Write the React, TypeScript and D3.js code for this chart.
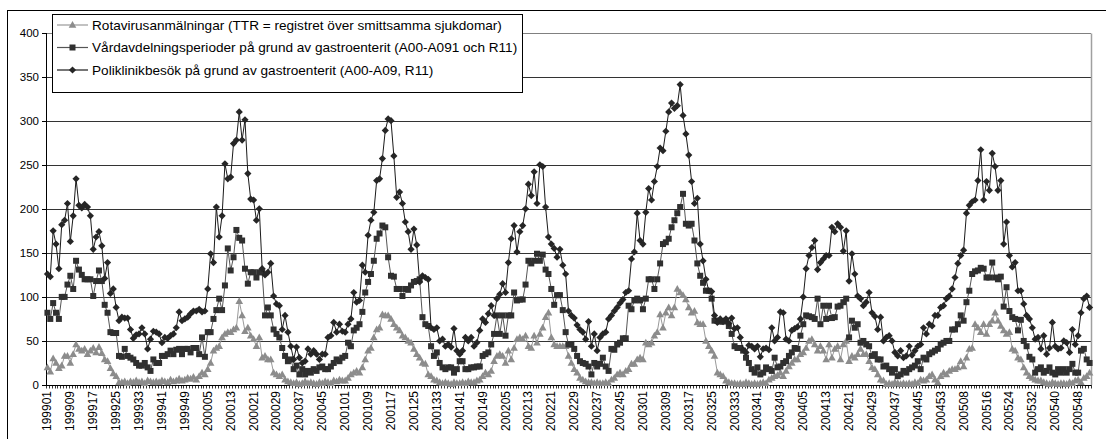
import React from 'react';
import * as d3 from 'd3';

// Categories: ISO year-week codes (1999 week 1 .. 2005 week 52)
const years = [1999, 2000, 2001, 2002, 2003, 2004, 2005];
const weeksPerYear = [52, 52, 52, 52, 52, 53, 52];
const categories: string[] = years.flatMap((yr, k) =>
  d3.range(1, weeksPerYear[k] + 1).map((w) => `${yr}${String(w).padStart(2, '0')}`)
);

// Rotavirusanmälningar (TTR)
const rota: number[] = [
  // 1999
  20,15,30,25,19,22,33,33,25,35,46,41,39,41,35,39,42,37,43,36,29,27,19,13,10,3,3,4,2,4,3,5,3,4,2,5,4,3,4,3,5,4,3,6,4,5,7,5,6,8,7,9,
  // 2000
  6,10,14,12,18,25,39,42,44,54,58,60,60,63,65,95,79,61,65,56,52,44,54,31,33,29,29,14,12,10,12,6,4,3,2,3,1,2,4,2,3,2,1,3,2,4,3,2,5,4,6,5,
  // 2001
  5,8,12,14,16,14,20,29,39,42,54,63,65,80,79,79,75,69,65,62,56,54,50,48,41,35,31,25,24,12,10,6,5,3,2,3,2,1,3,2,2,3,2,4,3,3,5,6,10,14,12,16,
  // 2002
  27,33,35,33,25,39,29,42,52,54,52,56,44,42,56,48,58,65,77,82,54,46,44,44,44,44,33,25,18,14,8,6,4,3,3,2,3,2,2,3,2,6,8,12,14,12,16,18,24,24,29,31,
  // 2003
  29,48,46,48,56,60,80,65,82,88,79,88,109,105,102,97,88,82,84,71,69,69,50,44,39,33,14,12,10,5,3,2,2,1,2,1,3,2,1,2,1,2,3,2,6,8,10,11,14,10,16,21,
  // 2004
  25,29,29,35,37,42,50,52,46,39,44,39,29,46,31,41,44,29,46,50,27,33,31,35,41,35,35,27,20,18,12,6,5,1,2,1,3,2,1,2,1,2,1,3,2,6,5,6,10,12,6,3,10,
  // 2005
  14,12,16,18,18,20,27,21,31,41,42,69,65,60,69,58,69,73,82,73,67,62,58,60,41,39,31,29,20,14,10,8,6,5,5,3,2,1,3,2,1,2,2,1,3,2,5,6,3,8,10,14,
];

// Vårdavdelningsperioder
const vard: number[] = [
  82,75,93,82,75,100,100,114,124,109,141,131,125,120,120,120,101,118,130,118,91,82,60,59,59,33,32,41,33,31,29,25,22,22,25,20,16,29,25,25,33,33,35,39,35,40,41,35,41,41,37,42,
  42,35,54,32,60,60,75,85,98,85,113,155,130,145,176,167,164,132,115,128,128,122,128,128,79,88,79,63,58,54,42,33,27,29,18,22,12,18,12,16,14,18,16,20,21,18,18,21,25,29,27,31,
  33,48,44,62,65,69,83,105,117,126,141,166,172,181,179,145,124,123,109,109,101,109,108,113,117,118,120,77,69,67,44,33,37,25,20,18,20,20,14,18,27,27,18,18,20,20,21,21,33,35,37,46,
  58,79,58,79,56,79,79,105,96,97,97,114,141,138,141,149,141,148,131,126,109,91,102,102,85,60,46,46,41,33,27,25,24,21,12,25,21,24,31,21,16,41,40,46,48,53,53,90,86,96,98,96,
  86,98,120,120,109,120,138,160,162,166,179,187,195,202,217,183,181,183,164,138,124,116,107,107,98,73,73,72,72,73,67,58,44,42,42,39,31,25,18,14,20,12,14,20,18,16,31,20,21,25,27,33,
  37,42,41,56,69,79,78,77,75,98,69,90,75,90,76,77,89,90,94,98,54,73,65,69,48,50,46,44,33,35,29,29,21,22,18,14,18,10,12,16,14,18,20,22,27,18,31,29,35,37,39,41,46,
  48,50,50,63,63,69,79,73,94,107,126,129,130,133,132,122,122,139,122,120,123,89,111,84,77,75,62,74,50,44,32,29,14,18,20,14,16,20,14,12,18,14,18,14,18,24,14,14,39,41,29,25,
];

// Poliklinikbesök
const poli: number[] = [
  126,123,175,160,132,182,187,206,163,192,234,204,201,205,202,192,154,168,174,158,121,139,104,109,88,73,77,76,76,63,53,57,58,65,58,41,52,61,60,58,48,54,53,56,58,65,83,73,75,77,81,84,
  84,86,83,84,109,149,139,202,168,192,251,234,236,274,278,310,278,301,240,211,210,187,200,132,125,128,138,101,92,90,63,79,60,44,29,43,31,25,27,41,35,39,35,29,35,35,54,56,71,60,69,61,
  60,69,75,105,94,96,136,128,170,187,196,232,234,257,289,302,300,260,213,219,206,185,174,154,177,159,117,124,122,120,65,63,65,50,52,44,46,43,64,39,35,39,54,50,54,44,48,62,75,71,81,90,
  79,98,103,115,105,139,166,181,151,174,181,200,228,215,242,206,250,248,202,168,160,155,145,154,136,126,84,79,76,68,63,60,52,72,44,58,39,54,58,60,75,79,84,88,93,97,105,107,143,151,195,164,
  160,196,223,210,231,248,269,266,288,310,320,314,317,341,306,285,261,231,206,212,160,141,120,107,106,79,71,75,72,75,70,76,64,65,54,40,37,45,44,41,44,32,41,42,40,65,50,54,83,82,52,50,
  62,64,66,75,100,132,147,156,164,131,139,143,147,147,179,174,183,179,152,175,118,149,126,101,98,90,94,105,82,78,63,77,50,54,56,50,37,33,39,31,33,44,34,39,44,46,65,58,69,67,79,79,88,
  90,98,101,109,122,138,147,153,195,204,208,210,232,267,210,231,221,263,248,221,232,160,185,147,134,139,107,107,92,79,75,65,52,54,41,56,35,42,71,44,41,42,50,48,37,63,46,56,82,98,101,88,
];

const seriesNames = [
  'Rotavirusanmälningar (TTR = registret över smittsamma sjukdomar)',
  'Vårdavdelningsperioder på grund av gastroenterit (A00-A091 och R11)',
  'Poliklinikbesök på grund av gastroenterit (A00-A09, R11)',
];

const yTicks = [0, 50, 100, 150, 200, 250, 300, 350, 400];
const labelStep = 8;

const W = 1106;
const H = 439;
const PLOT = { left: 46, right: 1091, top: 32.6, bottom: 385 };
const FONT = '"Liberation Sans", Arial, sans-serif';

const diamondPath = 'M0,-3.6L3.6,0L0,3.6L-3.6,0Z';
const trianglePath = 'M0,-4L3.8,2.8L-3.8,2.8Z';

type Style = { line: string; fill: string; marker: 'tri' | 'sq' | 'dia' };
const styles: Style[] = [
  { line: '#9a9a9a', fill: '#8c8c8c', marker: 'tri' },
  { line: '#555555', fill: '#303030', marker: 'sq' },
  { line: '#1a1a1a', fill: '#262626', marker: 'dia' },
];

function Marker({ kind, x, y, fill }: { kind: string; x: number; y: number; fill: string }) {
  if (kind === 'sq') return <rect x={x - 3} y={y - 3} width={6} height={6} fill={fill} />;
  if (kind === 'tri') return <path d={trianglePath} transform={`translate(${x},${y})`} fill={fill} />;
  return <path d={diamondPath} transform={`translate(${x},${y})`} fill={fill} />;
}

export default function App() {
  const idx = d3.range(categories.length);
  const x = d3.scaleBand<number>().domain(idx).range([PLOT.left, PLOT.right]).padding(0);
  const bw = x.bandwidth();
  const cx = (i: number) => (x(i) as number) + bw / 2;
  const y = d3.scaleLinear().domain([0, 400]).range([PLOT.bottom, PLOT.top]);
  const line = d3
    .line<number>()
    .x((_, i) => cx(i))
    .y((d) => y(d));

  const data = [rota, vard, poli];
  const boundaries = d3.range(categories.length + 1).map((i) => PLOT.left + i * bw);

  const legendX = 52;
  const legendY = 14;
  const legendW = 470;
  const legendH = 78;
  const rowY = [25, 47.5, 70];

  return (
    <svg
      width={W}
      height={H}
      style={{ position: 'absolute', left: 0, top: 0, background: '#fff' }}
      fontFamily={FONT}
    >
      <rect x={0} y={0} width={W} height={H} fill="#fff" />
      {/* outer chart border */}
      <rect x={7.5} y={10.5} width={W + 10} height={H + 10} fill="none" stroke="#000" strokeWidth={1} />

      {/* gridlines */}
      {yTicks.filter((t) => t > 0).map((t) => (
        <line
          key={t}
          x1={PLOT.left}
          x2={PLOT.right}
          y1={Math.round(y(t)) + 0.5}
          y2={Math.round(y(t)) + 0.5}
          stroke={t === 400 ? '#808080' : '#333'}
          strokeWidth={1}
        />
      ))}
      {/* plot right border */}
      <line x1={PLOT.right + 0.5} x2={PLOT.right + 0.5} y1={Math.round(y(400)) + 0.5} y2={PLOT.bottom} stroke="#a0a0a0" strokeWidth={1.5} />

      {/* y axis */}
      <line x1={PLOT.left + 0.5} x2={PLOT.left + 0.5} y1={Math.round(y(400))} y2={Math.round(y(0)) + 0.5} stroke="#000" />
      {yTicks.map((t) => (
        <g key={t}>
          <line x1={PLOT.left - 4} x2={PLOT.left} y1={Math.round(y(t)) + 0.5} y2={Math.round(y(t)) + 0.5} stroke="#000" />
          <text x={PLOT.left - 7} y={y(t) + 4} fontSize={11.5} textAnchor="end" fill="#000">
            {t}
          </text>
        </g>
      ))}

      {/* x axis */}
      <line x1={PLOT.left} x2={PLOT.right} y1={Math.round(y(0)) + 0.5} y2={Math.round(y(0)) + 0.5} stroke="#000" />
      {boundaries.map((bx, i) => (
        <line key={i} x1={Math.round(bx) + 0.5} x2={Math.round(bx) + 0.5} y1={Math.round(y(0))} y2={Math.round(y(0)) + 3.5} stroke="#000" strokeWidth={0.8} />
      ))}
      {categories.map((c, i) =>
        i % labelStep === 0 ? (
          <text
            key={c}
            transform={`translate(${cx(i) + 4},${PLOT.bottom + 6}) rotate(-90)`}
            fontSize={12}
            textAnchor="end"
            fill="#000"
          >
            {c}
          </text>
        ) : null
      )}

      {/* series */}
      {data.map((vals, s) => (
        <g key={s}>
          <path d={line(vals) ?? ''} fill="none" stroke={styles[s].line} strokeWidth={1} />
          {vals.map((v, i) => (
            <Marker key={i} kind={styles[s].marker} x={cx(i)} y={y(v)} fill={styles[s].fill} />
          ))}
        </g>
      ))}

      {/* legend */}
      <rect x={legendX + 0.5} y={legendY + 0.5} width={legendW} height={legendH} fill="#fff" stroke="#000" strokeWidth={1} />
      {seriesNames.map((n, s) => (
        <g key={n}>
          <line x1={legendX + 5} x2={legendX + 36} y1={rowY[s]} y2={rowY[s]} stroke={styles[s].line} strokeWidth={1.2} />
          <Marker kind={styles[s].marker} x={legendX + 20.5} y={rowY[s]} fill={styles[s].fill} />
          <text x={legendX + 40} y={rowY[s] + 4.8} fontSize={13.6} fill="#000">
            {n}
          </text>
        </g>
      ))}
    </svg>
  );
}
